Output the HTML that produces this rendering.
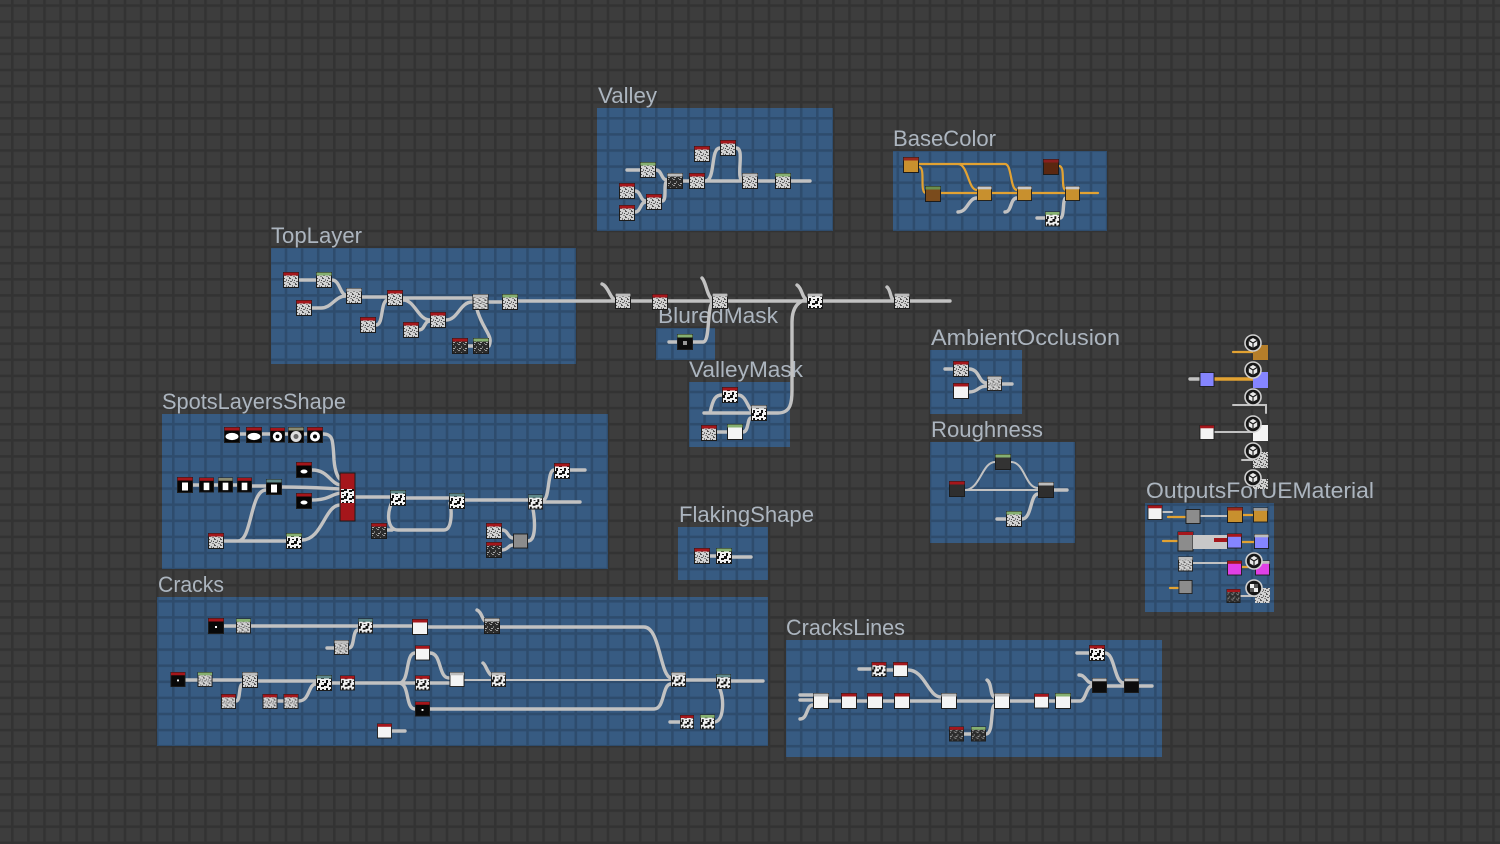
<!DOCTYPE html>
<html><head><meta charset="utf-8"><style>
html,body{margin:0;padding:0;background:#3d3d3d;width:1500px;height:844px;overflow:hidden}
svg{display:block}
.lb{font-family:"Liberation Sans",sans-serif;font-size:22px;fill:#acb5bf}
.w{fill:none;stroke:#c2c2c2;stroke-width:3.4;stroke-linecap:round}
.wt{fill:none;stroke:#c2c2c2;stroke-width:2;stroke-linecap:round}
.o{fill:none;stroke:#e2a232;stroke-width:2.2;stroke-linecap:round}
.ot{fill:none;stroke:#e2a232;stroke-width:3.4;stroke-linecap:round}
.fr{fill:#375b82}
</style></head><body>
<svg width="1500" height="844" viewBox="0 0 1500 844" xmlns="http://www.w3.org/2000/svg">
<defs>
<pattern id="grid" x="11" y="4.3" width="16.1" height="16.1" patternUnits="userSpaceOnUse">
<rect x="0" y="0" width="2.6" height="16.1" fill="rgba(0,0,0,0.16)"/>
<rect x="2.6" y="0" width="13.5" height="2.6" fill="rgba(0,0,0,0.16)"/>
</pattern>
<pattern id="nz" width="6" height="6" patternUnits="userSpaceOnUse">
<rect width="6" height="6" fill="#d2d2d2"/>
<rect x="0" y="0" width="2" height="1" fill="#555"/><rect x="3" y="1" width="1" height="2" fill="#777"/>
<rect x="1" y="3" width="2" height="1" fill="#606060"/><rect x="4" y="4" width="2" height="1" fill="#888"/>
<rect x="5" y="2" width="1" height="1" fill="#444"/><rect x="0" y="5" width="1" height="1" fill="#555"/>
</pattern>
<pattern id="dz" width="6" height="6" patternUnits="userSpaceOnUse">
<rect width="6" height="6" fill="#2c2c2c"/>
<rect x="0" y="0" width="2" height="1" fill="#999"/><rect x="3" y="2" width="1" height="2" fill="#777"/>
<rect x="1" y="4" width="2" height="1" fill="#aaa"/><rect x="5" y="5" width="1" height="1" fill="#888"/>
</pattern>
<pattern id="bw" width="8" height="8" patternUnits="userSpaceOnUse">
<rect width="8" height="8" fill="#f2f2f2"/>
<rect x="0" y="0" width="3" height="3" fill="#111"/><rect x="5" y="2" width="3" height="2" fill="#111"/>
<rect x="2" y="5" width="2" height="3" fill="#111"/><rect x="6" y="6" width="2" height="1" fill="#111"/>
</pattern>
<symbol id="R" viewBox="0 0 16 16"><rect x=".5" y=".5" width="15" height="15" fill="url(#nz)" stroke="#1c1c1c"/><rect x=".5" y=".5" width="15" height="3" fill="#a5161b"/></symbol>
<symbol id="G" viewBox="0 0 16 16"><rect x=".5" y=".5" width="15" height="15" fill="url(#nz)" stroke="#1c1c1c"/><rect x=".5" y=".5" width="15" height="3" fill="#86b070"/></symbol>
<symbol id="Y" viewBox="0 0 16 16"><rect x=".5" y=".5" width="15" height="15" fill="url(#nz)" stroke="#1c1c1c"/><rect x=".5" y=".5" width="15" height="3" fill="#bdbdbd"/></symbol>
<symbol id="T" viewBox="0 0 16 16"><rect x=".5" y=".5" width="15" height="15" fill="url(#bw)" stroke="#1c1c1c"/><rect x=".5" y=".5" width="15" height="3" fill="#5e8888"/></symbol>
<symbol id="YB" viewBox="0 0 16 16"><rect x=".5" y=".5" width="15" height="15" fill="url(#bw)" stroke="#1c1c1c"/><rect x=".5" y=".5" width="15" height="3" fill="#bdbdbd"/></symbol>
<symbol id="RB" viewBox="0 0 16 16"><rect x=".5" y=".5" width="15" height="15" fill="url(#bw)" stroke="#1c1c1c"/><rect x=".5" y=".5" width="15" height="3" fill="#a5161b"/></symbol>
<symbol id="GB" viewBox="0 0 16 16"><rect x=".5" y=".5" width="15" height="15" fill="url(#bw)" stroke="#1c1c1c"/><rect x=".5" y=".5" width="15" height="3" fill="#86b070"/></symbol>
<symbol id="RD" viewBox="0 0 16 16"><rect x=".5" y=".5" width="15" height="15" fill="url(#dz)" stroke="#1c1c1c"/><rect x=".5" y=".5" width="15" height="3" fill="#a5161b"/></symbol>
<symbol id="GD" viewBox="0 0 16 16"><rect x=".5" y=".5" width="15" height="15" fill="url(#dz)" stroke="#1c1c1c"/><rect x=".5" y=".5" width="15" height="3" fill="#86b070"/></symbol>
<symbol id="YD" viewBox="0 0 16 16"><rect x=".5" y=".5" width="15" height="15" fill="url(#dz)" stroke="#1c1c1c"/><rect x=".5" y=".5" width="15" height="3" fill="#bdbdbd"/></symbol>
<symbol id="RW" viewBox="0 0 16 16"><rect x=".5" y=".5" width="15" height="15" fill="#f4f4f4" stroke="#1c1c1c"/><rect x=".5" y=".5" width="15" height="3" fill="#a5161b"/></symbol>
<symbol id="GW" viewBox="0 0 16 16"><rect x=".5" y=".5" width="15" height="15" fill="#f4f4f4" stroke="#1c1c1c"/><rect x=".5" y=".5" width="15" height="3" fill="#86b070"/></symbol>
<symbol id="W" viewBox="0 0 16 16"><rect x=".5" y=".5" width="15" height="15" fill="#f4f4f4" stroke="#1c1c1c"/><rect x=".5" y=".5" width="15" height="3" fill="#bdbdbd"/></symbol>
<symbol id="RK" viewBox="0 0 16 16"><rect x=".5" y=".5" width="15" height="15" fill="#080808" stroke="#1c1c1c"/><rect x=".5" y=".5" width="15" height="3" fill="#a5161b"/><rect x="7" y="8" width="2" height="2" fill="#fff"/></symbol>
<symbol id="K" viewBox="0 0 16 16"><rect x=".5" y=".5" width="15" height="15" fill="#0c0c0c" stroke="#1c1c1c"/><rect x=".5" y=".5" width="15" height="3" fill="#bdbdbd"/></symbol>
<symbol id="GK" viewBox="0 0 16 16"><rect x=".5" y=".5" width="15" height="15" fill="#0c0c0c" stroke="#1c1c1c"/><rect x=".5" y=".5" width="15" height="3" fill="#86b070"/><rect x="6" y="7" width="4" height="4" fill="#999"/></symbol>
<symbol id="SE" viewBox="0 0 16 16"><rect x=".5" y=".5" width="15" height="15" fill="#050505" stroke="#1c1c1c"/><rect x=".5" y=".5" width="15" height="3" fill="#a5161b"/><ellipse cx="8" cy="9.5" rx="6.5" ry="3.6" fill="#fff"/></symbol>
<symbol id="SO" viewBox="0 0 16 16"><rect x=".5" y=".5" width="15" height="15" fill="#050505" stroke="#1c1c1c"/><rect x=".5" y=".5" width="15" height="3" fill="#a5161b"/><circle cx="8" cy="9.5" r="5" fill="#fff"/><circle cx="8" cy="9.5" r="2" fill="#050505"/></symbol>
<symbol id="SOg" viewBox="0 0 16 16"><rect x=".5" y=".5" width="15" height="15" fill="#050505" stroke="#1c1c1c"/><rect x=".5" y=".5" width="15" height="3" fill="#8a8a70"/><circle cx="8" cy="9.5" r="5.5" fill="#ddd"/><circle cx="8" cy="9.5" r="2.5" fill="#666"/></symbol>
<symbol id="SB" viewBox="0 0 16 16"><rect x=".5" y=".5" width="15" height="15" fill="#050505" stroke="#1c1c1c"/><rect x=".5" y=".5" width="15" height="3" fill="#a5161b"/><rect x="5" y="5.5" width="6" height="8" fill="#fff"/></symbol>
<symbol id="SBg" viewBox="0 0 16 16"><rect x=".5" y=".5" width="15" height="15" fill="#050505" stroke="#1c1c1c"/><rect x=".5" y=".5" width="15" height="3" fill="#8a8a70"/><rect x="5" y="5.5" width="6" height="8" fill="#fff"/></symbol>
<symbol id="TB" viewBox="0 0 16 16"><rect x=".5" y=".5" width="15" height="15" fill="#050505" stroke="#1c1c1c"/><rect x=".5" y=".5" width="15" height="3" fill="#5e8888"/><rect x="5" y="5.5" width="6" height="8" fill="#fff"/></symbol>
<symbol id="SK" viewBox="0 0 16 16"><rect x=".5" y=".5" width="15" height="15" fill="#050505" stroke="#1c1c1c"/><rect x=".5" y=".5" width="15" height="3" fill="#a5161b"/><ellipse cx="8" cy="9.5" rx="3.5" ry="2" fill="#fff"/></symbol>
<symbol id="O" viewBox="0 0 16 16"><rect x=".5" y=".5" width="15" height="15" fill="#c8902e" stroke="#1c1c1c"/><rect x=".5" y=".5" width="15" height="3" fill="#9a2a1e"/></symbol>
<symbol id="O2" viewBox="0 0 16 16"><rect x=".5" y=".5" width="15" height="15" fill="#c8902e" stroke="#1c1c1c"/><rect x=".5" y=".5" width="15" height="3" fill="#c8c8c8"/></symbol>
<symbol id="BR" viewBox="0 0 16 16"><rect x=".5" y=".5" width="15" height="15" fill="#7a4b1c" stroke="#1c1c1c"/><rect x=".5" y=".5" width="15" height="3" fill="#6a8f4e"/></symbol>
<symbol id="DR" viewBox="0 0 16 16"><rect x=".5" y=".5" width="15" height="15" fill="#5a2710" stroke="#1c1c1c"/><rect x=".5" y=".5" width="15" height="3" fill="#8a1e1e"/></symbol>
<symbol id="RDK" viewBox="0 0 16 16"><rect x=".5" y=".5" width="15" height="15" fill="#2e2e2e" stroke="#1c1c1c"/><rect x=".5" y=".5" width="15" height="3" fill="#a5161b"/></symbol>
<symbol id="GDK" viewBox="0 0 16 16"><rect x=".5" y=".5" width="15" height="15" fill="#333" stroke="#1c1c1c"/><rect x=".5" y=".5" width="15" height="3" fill="#86b070"/></symbol>
<symbol id="YDK" viewBox="0 0 16 16"><rect x=".5" y=".5" width="15" height="15" fill="#2e2e2e" stroke="#1c1c1c"/><rect x=".5" y=".5" width="15" height="3" fill="#bdbdbd"/></symbol>
<symbol id="GM" viewBox="0 0 16 16"><rect x=".5" y=".5" width="15" height="15" fill="#8c8c8c" stroke="#1c1c1c"/></symbol>
<symbol id="P" viewBox="0 0 16 16"><rect x=".5" y=".5" width="15" height="15" fill="#8585ff" stroke="#1c1c1c"/></symbol>
<symbol id="PY" viewBox="0 0 16 16"><rect x=".5" y=".5" width="15" height="15" fill="#8585ff" stroke="#1c1c1c"/><rect x=".5" y=".5" width="15" height="3" fill="#bdbdbd"/></symbol>
<symbol id="PR" viewBox="0 0 16 16"><rect x=".5" y=".5" width="15" height="15" fill="#8585ff" stroke="#1c1c1c"/><rect x=".5" y=".5" width="15" height="3" fill="#a5161b"/></symbol>
<symbol id="MR" viewBox="0 0 16 16"><rect x=".5" y=".5" width="15" height="15" fill="#e040e6" stroke="#1c1c1c"/><rect x=".5" y=".5" width="15" height="3" fill="#a5161b"/></symbol>
<symbol id="M" viewBox="0 0 16 16"><rect x=".5" y=".5" width="15" height="15" fill="#e040e6" stroke="#1c1c1c"/><rect x=".5" y=".5" width="15" height="3" fill="#bdbdbd"/></symbol>
<symbol id="OY" viewBox="0 0 16 16"><rect x=".5" y=".5" width="15" height="15" fill="#c8902e" stroke="#1c1c1c"/><rect x=".5" y=".5" width="15" height="3" fill="#999"/></symbol>
<symbol id="C" viewBox="0 0 18 18"><circle cx="9" cy="9" r="8" fill="#161616" stroke="#d0d0d0" stroke-width="1.6"/><path d="M9 4 L13.2 6.4 V11.4 L9 13.8 L4.8 11.4 V6.4 Z" fill="#e8e8e8"/><path d="M9 9 L13.2 6.4 M9 9 V13.8 M9 9 L4.8 6.4" stroke="#161616" stroke-width="1.1"/></symbol>
<symbol id="CK" viewBox="0 0 18 18"><circle cx="9" cy="9" r="8" fill="#161616" stroke="#d0d0d0" stroke-width="1.6"/><rect x="5" y="5" width="4" height="4" fill="#eee"/><rect x="9" y="9" width="4" height="4" fill="#eee"/><rect x="9" y="5" width="4" height="4" fill="#555"/><rect x="5" y="9" width="4" height="4" fill="#555"/></symbol>
</defs>

<rect width="1500" height="844" fill="#3d3d3d"/>
<!-- frames -->
<rect class="fr" x="597" y="108" width="236" height="123"/>
<rect class="fr" x="893" y="151" width="214" height="80"/>
<rect class="fr" x="271" y="248" width="305" height="116"/>
<rect class="fr" x="656" y="328" width="59" height="32"/>
<rect class="fr" x="689" y="382" width="101" height="65"/>
<rect class="fr" x="930" y="350" width="92" height="64"/>
<rect class="fr" x="930" y="442" width="145" height="101"/>
<rect class="fr" x="162" y="414" width="446" height="155"/>
<rect class="fr" x="678" y="527" width="90" height="53"/>
<rect class="fr" x="157" y="597" width="611" height="149"/>
<rect class="fr" x="786" y="640" width="376" height="117"/>
<rect class="fr" x="1145" y="503" width="129" height="109"/>
<rect width="1500" height="844" fill="url(#grid)"/>

<!-- labels -->
<text class="lb" x="598" y="103" textLength="59" lengthAdjust="spacingAndGlyphs">Valley</text>
<text class="lb" x="893" y="146" textLength="103" lengthAdjust="spacingAndGlyphs">BaseColor</text>
<text class="lb" x="271" y="243" textLength="91" lengthAdjust="spacingAndGlyphs">TopLayer</text>
<text class="lb" x="658" y="323" textLength="120" lengthAdjust="spacingAndGlyphs">BluredMask</text>
<text class="lb" x="689" y="377" textLength="114" lengthAdjust="spacingAndGlyphs">ValleyMask</text>
<text class="lb" x="931" y="345" textLength="189" lengthAdjust="spacingAndGlyphs">AmbientOcclusion</text>
<text class="lb" x="931" y="437" textLength="112" lengthAdjust="spacingAndGlyphs">Roughness</text>
<text class="lb" x="162" y="409" textLength="184" lengthAdjust="spacingAndGlyphs">SpotsLayersShape</text>
<text class="lb" x="679" y="522" textLength="135" lengthAdjust="spacingAndGlyphs">FlakingShape</text>
<text class="lb" x="158" y="592" textLength="66" lengthAdjust="spacingAndGlyphs">Cracks</text>
<text class="lb" x="786" y="635" textLength="119" lengthAdjust="spacingAndGlyphs">CracksLines</text>
<text class="lb" x="1146" y="498" textLength="228" lengthAdjust="spacingAndGlyphs">OutputsForUEMaterial</text>

<!-- Valley wires -->
<path class="w" d="M627 170 H640 M656 170 C662 170 661 180 667 180 M683 181 H689 M705 181 H742 M758 181 H775 M791 181 H810 M705 181 C716 181 710 148 720 148 M736 148 C746 148 734 181 744 181 M635 191 C641 191 640 201 646 201 M635 212 C641 212 640 202 646 202 M662 201 C668 201 662 181 668 181"/>
<use href="#G" x="640" y="162" width="16" height="16"/>
<use href="#YD" x="667" y="173" width="16" height="16"/>
<use href="#R" x="689" y="173" width="16" height="16"/>
<use href="#R" x="694" y="146" width="16" height="16"/>
<use href="#R" x="720" y="140" width="16" height="16"/>
<use href="#Y" x="742" y="173" width="16" height="16"/>
<use href="#G" x="775" y="173" width="16" height="16"/>
<use href="#R" x="619" y="183" width="16" height="16"/>
<use href="#R" x="619" y="205" width="16" height="16"/>
<use href="#R" x="646" y="194" width="16" height="16"/>

<!-- BaseColor -->
<path class="o" d="M919 164 H1005 M958 164 C968 164 968 190 977 190 M1005 164 C1012 164 1010 190 1017 190 M919 167 C926 167 919 193 926 193 M940 193 H977 M991 193 H1017 M1032 193 H1065 M1080 193 H1098 M1059 166 C1066 166 1060 190 1066 190"/>
<path class="w" d="M958 212 C968 212 968 198 977 198 M1005 212 C1012 212 1010 198 1017 198 M1037 218 H1045 M1060 218 C1065 218 1062 198 1066 198"/>
<use href="#O" x="903" y="157" width="16" height="16"/>
<use href="#BR" x="925" y="186" width="16" height="16"/>
<use href="#O2" x="977" y="186" width="15" height="15"/>
<use href="#O2" x="1017" y="186" width="15" height="15"/>
<use href="#O2" x="1065" y="186" width="15" height="15"/>
<use href="#DR" x="1043" y="159" width="16" height="16"/>
<use href="#GB" x="1045" y="211" width="15" height="16"/>

<!-- TopLayer + pipeline -->
<path class="w" d="M299 280 H316 M332 280 C340 280 340 295 346 295 M312 308 H321 C332 308 335 296 346 296 M362 297 H387 M403 298 H472 M403 300 C415 300 418 320 430 320 M376 325 C384 325 380 300 388 300 M419 330 C425 330 424 321 430 321 M446 320 C458 320 460 302 472 302 M489 302 H502 M476 306 C482 330 494 335 489 346 M467 346 H473 M518 301 H950 M602 284 C608 286 610 298 615 300 M702 278 C706 282 707 296 712 299 M797 285 C802 288 802 298 807 300 M887 287 C891 290 890 299 894 300 M669 342 H677 M693 342 H703 C711 342 706 302 714 302 M704 413 H751 M710 413 C713 398 716 395 722 395 M738 395 C745 395 747 405 751 410 M717 432 H727 M743 432 C749 432 747 418 751 418 M767 413 H778 C791 413 792 402 792 390 V322 C792 306 800 300 807 300"/>
<use href="#R" x="283" y="272" width="16" height="16"/>
<use href="#G" x="316" y="272" width="16" height="16"/>
<use href="#R" x="296" y="300" width="16" height="16"/>
<use href="#Y" x="346" y="288" width="16" height="16"/>
<use href="#R" x="387" y="290" width="16" height="16"/>
<use href="#R" x="360" y="317" width="16" height="16"/>
<use href="#R" x="403" y="322" width="16" height="16"/>
<use href="#R" x="430" y="312" width="16" height="16"/>
<use href="#Y" x="472" y="294" width="17" height="16"/>
<use href="#G" x="502" y="294" width="16" height="16"/>
<use href="#RD" x="452" y="338" width="16" height="16"/>
<use href="#GD" x="473" y="338" width="16" height="16"/>
<use href="#Y" x="615" y="293" width="16" height="16"/>
<use href="#R" x="652" y="294" width="16" height="16"/>
<use href="#Y" x="712" y="293" width="16" height="16"/>
<use href="#YB" x="807" y="293" width="16" height="16"/>
<use href="#Y" x="894" y="293" width="16" height="16"/>
<use href="#GK" x="677" y="334" width="16" height="16"/>
<use href="#RB" x="722" y="387" width="16" height="16"/>
<use href="#YB" x="751" y="405" width="16" height="16"/>
<use href="#R" x="701" y="425" width="16" height="16"/>
<use href="#GW" x="727" y="424" width="16" height="16"/>

<!-- AO / Roughness -->
<path class="w" d="M945 369 H953 M969 369 C980 369 978 383 987 383 M969 392 C978 392 978 386 987 386 M1002 384 H1012"/>
<path class="wt" d="M965 490 H1038 M965 490 C980 490 982 462 995 462 M1011 462 C1025 462 1025 488 1038 488"/>
<path class="w" d="M997 519 H1006 M1022 519 C1032 519 1030 494 1038 494 M1054 490 H1067"/>
<use href="#R" x="953" y="361" width="16" height="16"/>
<use href="#RW" x="953" y="383" width="16" height="16"/>
<use href="#Y" x="987" y="376" width="15" height="15"/>
<use href="#GDK" x="995" y="454" width="16" height="16"/>
<use href="#RDK" x="949" y="481" width="16" height="16"/>
<use href="#YDK" x="1038" y="482" width="16" height="16"/>
<use href="#G" x="1006" y="511" width="16" height="16"/>

<!-- Spots -->
<path class="w" d="M240 434 H246 M262 434 H270 M285 434 H288 M304 434 H307 M323 434 C333 434 333 440 334 460 C335 472 338 478 341 480 M193 485 H199 M214 485 H218 M233 485 H237 M252 486 H266 M282 487 C310 487 320 488 340 489 M312 470 C328 470 330 483 340 485 M312 500 C328 500 330 495 340 493 M224 541 H286 M238 541 C252 541 250 490 266 490 M302 540 C322 540 325 505 340 505 M355 497 H390 M406 498 H449 M465 500 H528 M543 502 H580 M392 502 C386 515 388 530 398 530 H444 C452 530 452 512 450 503 M387 530 H392 M502 530 C508 530 508 538 513 538 M502 550 C508 550 508 545 513 545 M528 541 C538 541 534 510 532 506 M543 500 C550 500 547 470 554 470 M570 470 H585"/>
<use href="#SE" x="224" y="427" width="16" height="16"/>
<use href="#SE" x="246" y="427" width="16" height="16"/>
<use href="#SO" x="270" y="427" width="15" height="16"/>
<use href="#SOg" x="288" y="427" width="16" height="16"/>
<use href="#SO" x="307" y="427" width="16" height="16"/>
<use href="#SB" x="177" y="477" width="16" height="16"/>
<use href="#SB" x="199" y="477" width="15" height="16"/>
<use href="#SBg" x="218" y="477" width="15" height="16"/>
<use href="#SB" x="237" y="477" width="15" height="16"/>
<use href="#TB" x="266" y="479" width="16" height="16"/>
<use href="#SK" x="296" y="462" width="16" height="16"/>
<use href="#SK" x="296" y="493" width="16" height="16"/>
<rect x="340" y="473" width="15" height="48" fill="#a5161b" stroke="#1c1c1c"/>
<rect x="341" y="489" width="13" height="14" fill="url(#bw)"/>
<use href="#T" x="390" y="490" width="16" height="16"/>
<use href="#T" x="449" y="493" width="16" height="16"/>
<use href="#T" x="528" y="494" width="15" height="16"/>
<use href="#RB" x="554" y="463" width="16" height="16"/>
<use href="#RD" x="371" y="523" width="16" height="16"/>
<use href="#R" x="486" y="523" width="16" height="16"/>
<use href="#RD" x="486" y="542" width="16" height="16"/>
<use href="#GM" x="513" y="533" width="15" height="16"/>
<use href="#R" x="208" y="533" width="16" height="16"/>
<use href="#GB" x="286" y="533" width="16" height="16"/>

<!-- Flaking -->
<path class="w" d="M710 556 H716 M732 557 H751"/>
<use href="#R" x="694" y="548" width="16" height="16"/>
<use href="#GB" x="716" y="548" width="16" height="16"/>

<!-- Cracks -->
<path class="w" d="M224 626 H236 M251 626 H358 M373 626 H412 M428 627 H484 M500 627 H644 C660 627 660 676 671 678 M327 648 H334 M349 648 C355 648 352 630 358 630 M477 610 C482 612 482 620 486 622 M186 680 H197 M213 680 H242 M258 681 H316 M332 683 H340 M355 683 H415 M399 683 C410 683 405 653 415 653 M399 683 C410 683 405 709 415 709 M430 653 C442 653 438 678 449 678 M430 683 H449 M430 709 H654 C665 709 662 684 671 684 M686 680 H716 M731 681 H763 M236 701 C241 701 238 684 243 684 M278 701 H283 M299 701 C310 701 308 684 316 684 M483 663 C486 665 487 672 491 675 M670 722 H680 M715 722 C724 720 724 700 720 689 M392 731 H405"/>
<path class="wt" d="M465 680 H491 M506 680 H671"/>
<use href="#RK" x="208" y="618" width="16" height="16"/>
<use href="#G" x="236" y="618" width="15" height="16"/>
<use href="#T" x="358" y="618" width="15" height="16"/>
<use href="#Y" x="334" y="640" width="15" height="15"/>
<use href="#RW" x="412" y="619" width="16" height="16"/>
<use href="#YD" x="484" y="618" width="16" height="16"/>
<use href="#RW" x="415" y="645" width="15" height="16"/>
<use href="#RB" x="415" y="675" width="15" height="16"/>
<use href="#RK" x="415" y="701" width="15" height="16"/>
<use href="#W" x="449" y="672" width="16" height="15"/>
<use href="#YB" x="491" y="672" width="15" height="15"/>
<use href="#RK" x="170" y="672" width="16" height="15"/>
<use href="#G" x="197" y="672" width="16" height="15"/>
<use href="#Y" x="242" y="672" width="16" height="16"/>
<use href="#R" x="221" y="694" width="15" height="15"/>
<use href="#R" x="262" y="694" width="16" height="15"/>
<use href="#R" x="283" y="694" width="16" height="15"/>
<use href="#T" x="316" y="675" width="16" height="16"/>
<use href="#RB" x="340" y="675" width="15" height="16"/>
<use href="#YB" x="671" y="672" width="15" height="15"/>
<use href="#T" x="716" y="674" width="15" height="15"/>
<use href="#RB" x="680" y="714" width="14" height="16"/>
<use href="#GB" x="700" y="714" width="15" height="16"/>
<use href="#RW" x="377" y="723" width="15" height="16"/>

<!-- CracksLines -->
<path class="w" d="M800 695 H813 M800 700 H813 M800 719 C808 719 806 705 813 705 M829 701 H841 M857 701 H867 M883 701 H894 M910 701 H941 M859 669 H871 M887 670 H893 M908 670 C925 670 928 697 941 697 M957 701 H994 M987 680 C992 683 990 695 994 697 M964 734 H971 M986 734 C994 734 990 705 995 705 M1010 701 H1034 M1049 701 H1055 M1071 701 H1080 C1086 701 1086 686 1092 686 M1079 675 C1086 675 1086 683 1092 683 M1107 686 H1124 M1077 653 H1089 M1105 653 C1115 653 1114 683 1124 683 M1139 686 H1152"/>
<use href="#RB" x="871" y="662" width="16" height="15"/>
<use href="#RW" x="893" y="662" width="15" height="15"/>
<use href="#W" x="813" y="693" width="16" height="16"/>
<use href="#RW" x="841" y="693" width="16" height="16"/>
<use href="#RW" x="867" y="693" width="16" height="16"/>
<use href="#RW" x="894" y="693" width="16" height="16"/>
<use href="#W" x="941" y="693" width="16" height="16"/>
<use href="#W" x="994" y="693" width="16" height="16"/>
<use href="#RW" x="1034" y="693" width="15" height="16"/>
<use href="#GW" x="1055" y="693" width="16" height="16"/>
<use href="#K" x="1092" y="678" width="15" height="15"/>
<use href="#K" x="1124" y="678" width="15" height="15"/>
<use href="#RB" x="1089" y="645" width="16" height="16"/>
<use href="#RD" x="949" y="726" width="15" height="16"/>
<use href="#GD" x="971" y="726" width="15" height="16"/>

<!-- Outputs (outside frame) -->
<path class="o" d="M1233 352 H1253"/>
<path class="w" d="M1190 379 H1199"/>
<path class="ot" d="M1215 379 H1253"/>
<path class="wt" d="M1215 432 H1253 M1242 460 H1253 M1233 405 H1266 V413"/>
<rect x="1253" y="345" width="15" height="15" fill="#b57e2a"/>
<rect x="1253" y="372" width="15" height="16" fill="#8585ff"/>
<rect x="1253" y="425" width="15" height="16" fill="#f4f4f4"/>
<rect x="1253" y="452" width="15" height="16" fill="url(#nz)"/>
<rect x="1253" y="479" width="15" height="10" fill="url(#nz)"/>
<use href="#P" x="1199" y="372" width="16" height="15"/>
<use href="#RW" x="1199" y="425" width="16" height="15"/>
<use href="#C" x="1244" y="334" width="18" height="18"/>
<use href="#C" x="1244" y="361" width="18" height="18"/>
<use href="#C" x="1244" y="388" width="18" height="18"/>
<use href="#C" x="1244" y="415" width="18" height="18"/>
<use href="#C" x="1244" y="442" width="18" height="18"/>
<use href="#C" x="1244" y="469" width="18" height="18"/>

<!-- Outputs frame content -->
<path class="o" d="M1168 517 H1185 M1243 515 H1253 M1163 541 H1178 M1242 542 H1254 M1242 567 H1255 M1170 588 H1178"/>
<path class="wt" d="M1163 512 H1172 M1201 516 H1227 M1193 563 H1227 M1241 596 H1255"/>
<use href="#RW" x="1147" y="505" width="16" height="15"/>
<use href="#GM" x="1185" y="509" width="16" height="15"/>
<use href="#O" x="1227" y="507" width="16" height="16"/>
<use href="#OY" x="1253" y="507" width="15" height="16"/>
<rect x="1178" y="532" width="15" height="19" fill="#8c8c8c" stroke="#1c1c1c"/>
<rect x="1178" y="532" width="15" height="3" fill="#a5161b"/>
<rect x="1193" y="535" width="34" height="14" fill="#c8c8c8"/>
<rect x="1214" y="538" width="13" height="4" fill="#a5161b"/>
<use href="#PR" x="1227" y="532" width="15" height="18"/>
<use href="#PY" x="1254" y="534" width="15" height="15"/>
<use href="#Y" x="1178" y="556" width="15" height="16"/>
<use href="#MR" x="1227" y="560" width="15" height="16"/>
<use href="#M" x="1255" y="560" width="15" height="16"/>
<use href="#GM" x="1178" y="580" width="15" height="14"/>
<use href="#RD" x="1226" y="589" width="15" height="14"/>
<rect x="1255" y="588" width="15" height="15" fill="url(#nz)"/>
<use href="#C" x="1245" y="552" width="18" height="18"/>
<use href="#CK" x="1245" y="579" width="18" height="18"/>
</svg>
</body></html>
